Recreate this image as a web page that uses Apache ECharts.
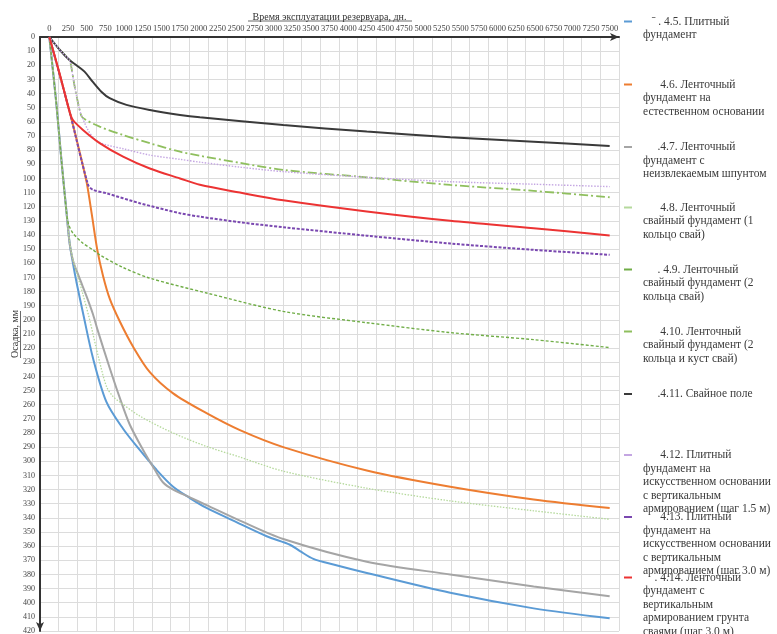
<!DOCTYPE html>
<html><head><meta charset="utf-8">
<script src="https://cdn.jsdelivr.net/npm/echarts@6/dist/echarts.min.js"></script>
<style>html,body{margin:0;padding:0;background:#fff}#c{width:777px;height:634px}</style>
</head><body><div id="c"></div>
<script>
// ---- tick labels ----
const xTickLabels = [0,250,500,750,1000,1250,1500,1750,2000,2250,2500,2750,3000,3250,3500,3750,4000,4250,4500,4750,5000,5250,5500,5750,6000,6250,6500,6750,7000,7250,7500];

// ---- series (days, settlement mm) ----
const s45 = [[0,0],[90,45],[160,86],[230,124],[272,146],[316,160],[362,173],[450,195],[584,227],[764,258],[987,277],[1210,292],[1434,306],[1657,318],[1881,326],[2104,333],[2462,342],[2909,353],[3221,359],[3355,363.5],[3534,369],[3802,373],[4249,379],[5366,393],[6483,404],[7500,411]];
const s46 = [[0,0],[136,26],[272,53],[400,80],[500,103],[570,126],[640,150],[719,169],[808,185],[942,201],[1121,219],[1345,237],[1657,252],[2104,266],[2551,278],[3131,290],[4249,306.5],[5366,318],[6483,327],[7500,333]];
const s47 = [[0,0],[90,45],[160,86],[230,124],[272,146],[316,158],[400,170],[496,183],[584,196],[651,208],[808,234],[942,255],[1076,274],[1255,292],[1412,306],[1523,315],[1657,320],[1881,325.5],[2104,331],[2551,342],[3131,355],[4249,371],[5366,380],[6483,388.5],[7500,395.5]];
const s48 = [[0,0],[90,45],[160,86],[230,124],[272,145],[316,157],[450,182],[540,200],[651,225],[764,247],[850,254],[942,258],[1210,268],[1657,280],[2104,289.5],[2551,297],[3131,307],[4249,319],[5366,328],[6483,335],[7500,341]];
const s49 = [[0,0],[90,45],[160,86],[230,124],[255,132],[316,138.7],[450,145.8],[584,150.5],[674,154],[987,163],[1345,170.5],[2104,181],[3131,194],[4249,202],[5366,209],[6483,214],[7500,219.6]];
const s410 = [[0,0],[138,9],[269,16.3],[290,20],[339,35],[406,51.6],[442,56.8],[674,63.4],[987,69.3],[1345,75.1],[1749,81.1],[2015,84],[2551,89],[3131,94],[4249,99.2],[5366,104.6],[6483,108.8],[7500,113.3]];
const s411 = [[0,0],[138,9],[269,16.3],[358,19.8],[471,24.5],[579,31.6],[696,38.7],[807,43.3],[1032,48],[1345,51.6],[1749,55.1],[2015,56.8],[3131,62.2],[4249,66.9],[5366,70.9],[6483,74],[7500,77]];
const s412 = [[0,0],[138,9],[269,16.3],[290,20],[339,35],[406,51.6],[450,58],[520,66],[600,72],[674,74.5],[764,76.3],[987,79],[1345,83.5],[1749,86.5],[2015,88.5],[2551,92],[3131,95.2],[4249,99.2],[5366,102.3],[6483,104.1],[7500,105.8]];
const s413 = [[0,0],[272,53],[519,104.6],[584,108],[764,110.5],[1210,117.5],[1749,124.6],[2015,127],[2552,131],[3131,134.5],[4249,140.5],[5366,146],[6483,150.5],[7500,154]];
const s414 = [[0,0],[138,26],[272,53],[316,58.7],[450,65.7],[674,75],[987,84.6],[1345,93],[1749,100],[2015,104.5],[2551,110],[3131,115.5],[4249,123.4],[5366,130],[6483,135.2],[7500,140.4]];

const seriesNames = ['4.5','4.6','4.7','4.8','4.9','4.10','4.11','4.12','4.13','4.14'];
const seriesData = [s45,s46,s47,s48,s49,s410,s411,s412,s413,s414];
const legendLines = {
  '4.5': ['   ˉ . 4.5. Плитный','фундамент'],
  '4.6': ['      4.6. Ленточный','фундамент на','естественном основании'],
  '4.7': ['     .4.7. Ленточный','фундамент с','неизвлекаемым шпунтом'],
  '4.8': ['      4.8. Ленточный','свайный фундамент (1','кольцо свай)'],
  '4.9': ['     . 4.9. Ленточный','свайный фундамент (2','кольца свай)'],
  '4.10': ['      4.10. Ленточный','свайный фундамент (2','кольца и куст свай)'],
  '4.11': ['     .4.11. Свайное поле'],
  '4.12': ['      4.12. Плитный','фундамент на','искусственном основании','с вертикальным','армированием (шаг 1.5 м)'],
  '4.13': ['      4.13. Плитный','фундамент на','искусственном основании','с вертикальным','армированием (шаг 3.0 м)'],
  '4.14': ['    . 4.14. Ленточный','фундамент с','вертикальным','армированием грунта','сваями (шаг 3.0 м)']
};

// ---- styles ----
const styles = [
  {color:'#5b9bd5', width:2, type:'solid'},
  {color:'#ed7d31', width:2, type:'solid'},
  {color:'#a5a5a5', width:2, type:'solid'},
  {color:'#b5d99c', width:1.3, type:[1.5,1.5]},
  {color:'#70ad47', width:1.4, type:[3,2]},
  {color:'#8fbf5e', width:1.8, type:[9,3,2,3]},
  {color:'#3a3a3a', width:2, type:'solid'},
  {color:'#c4a6e2', width:1.4, type:[1.5,1.5]},
  {color:'#7a48b0', width:2, type:[3,1.6]},
  {color:'#ec3333', width:2, type:'solid'}
];
const legendFirstY = [21.5,84.5,147,207.5,269.5,331.5,394,455,517,577.5];
const serif = 'Liberation Serif';
const LH = 13.5;

const chart = echarts.init(document.getElementById('c'), null, {renderer:'canvas'});
chart.setOption({
  animation:false,
  backgroundColor:'#fff',
  grid:{left:40, right:158, top:37, bottom:3, containLabel:false, outerBoundsMode:'none'},
  xAxis:[{
    type:'value', position:'top', min:-125, max:7625,
    name:'Время эксплуатации резервуара, дн.', nameLocation:'middle', nameGap:15, nameMoveOverlap:false,
    nameTextStyle:{fontFamily:serif, fontSize:10, color:'#333'},
    axisLine:{show:true, onZero:false, lineStyle:{color:'#333', width:2}, symbol:['none','arrow'], symbolSize:[6,9]},
    axisTick:{show:false},
    axisLabel:{customValues:xTickLabels, formatter:(v)=>String(v), fontFamily:serif, fontSize:8.5, color:'#444', margin:4},
    splitLine:{show:false}
  },{
    type:'value', position:'top', min:0, max:7750, interval:250,
    axisLine:{show:false}, axisTick:{show:false}, axisLabel:{show:false},
    splitLine:{show:true, lineStyle:{color:'#dcdcdc', width:1}}
  }],
  yAxis:{
    type:'value', inverse:true, min:0, max:420, interval:10,
    name:'Осадка, мм', nameLocation:'middle', nameGap:20, nameRotate:90, nameMoveOverlap:false,
    nameTextStyle:{fontFamily:serif, fontSize:10, color:'#333'},
    axisLine:{show:true, onZero:false, lineStyle:{color:'#333', width:2}, symbol:['arrow','none'], symbolSize:[6,9]},
    axisTick:{show:false},
    axisLabel:{fontFamily:serif, fontSize:8, color:'#444', margin:5, interval:0},
    splitLine:{show:true, lineStyle:{color:'#dcdcdc', width:1}}
  },
  legend: seriesNames.map((nm,i)=>{
    const n = legendLines[nm].length;
    const pad = new Array(n-1).fill('');
    return {
      data:[nm], orient:'vertical', left:624, top: legendFirstY[i] - (2*n-1)*LH/2,
      padding:0, itemWidth:8, itemHeight:2, icon:'rect', selectedMode:false,
      formatter: ()=>pad.concat(legendLines[nm]).join('\n'),
      textStyle:{fontFamily:serif, fontSize:11.5, lineHeight:LH, color:'#3a3a3a', padding:[0,0,0,6]}
    };
  }),
  graphic:[
    {type:'line', shape:{x1:248, y1:21, x2:412, y2:21}, style:{stroke:'#444', lineWidth:0.8}, silent:true},
    {type:'line', shape:{x1:20.5, y1:311, x2:20.5, y2:358}, style:{stroke:'#444', lineWidth:0.8}, silent:true}
  ],
  series: seriesNames.map((nm,i)=>({
    name:nm, type:'line', data:seriesData[i], xAxisIndex:0,
    symbol:'none', smooth:0.3,
    lineStyle:{color:styles[i].color, width:styles[i].width, type:styles[i].type},
    itemStyle:{color:styles[i].color},
    emphasis:{disabled:true}
  }))
});
</script>
</body></html>
